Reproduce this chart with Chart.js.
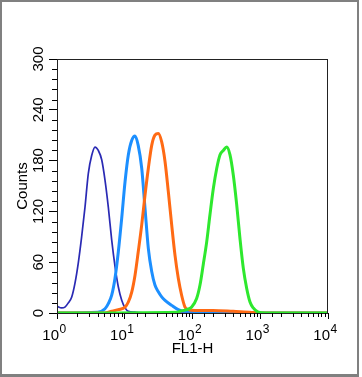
<!DOCTYPE html>
<html>
<head>
<meta charset="utf-8">
<script src="https://cdn.jsdelivr.net/npm/chart.js@4"></script>
<style>
  html, body { margin: 0; padding: 0; background: #fff; }
  #wrap { position: relative; width: 362px; height: 377px; }
  #frame { position: absolute; left: 0; top: 0; width: 359px; height: 377px; box-sizing: border-box;
           border-style: solid; border-color: #808080; border-width: 2px 2px 3px 2px; }
  #c { position: absolute; left: 0; top: 0; }
</style>
</head>
<body>
<div id="wrap">
  <div id="frame"></div>
  <canvas id="c" width="362" height="377"></canvas>
</div>
<script>
// histogram values (FL1-H channel, counts)
const darkBlueX = [1.0, 1.17, 1.31, 1.47, 1.65, 1.84, 2.06, 2.31, 2.59, 2.90, 3.25, 3.64, 4.07, 4.57, 5.11, 5.72, 6.42, 7.18, 8.03, 9.02, 10.1, 11.3, 14, 20, 10000];
const darkBlueY = [8, 6, 7, 12, 19, 35, 59, 90, 125, 165, 186, 196, 192, 181, 157, 125, 86, 55, 31, 15, 6, 2, 1, 0, 0];

const lightBlueX = [1, 4.0, 5.11, 5.72, 6.42, 7.18, 8.03, 9.02, 10.1, 11.3, 12.7, 14.2, 15.8, 17.8, 19.9, 22.3, 25.0, 27.9, 31.3, 35.1, 39.3, 49.3, 61.7, 77.5, 89, 150, 300, 600, 10000];
const lightBlueY = [0, 1, 5, 11, 21, 41, 72, 112, 155, 187, 204, 209, 198, 171, 124, 76, 49, 33, 25, 19, 15, 9, 4, 2, 2, 1, 1, 0, 0];

const orangeX = [1, 5, 6.42, 8.03, 10.1, 11.3, 12.7, 14.2, 15.8, 17.8, 19.9, 22.3, 25.0, 27.9, 31.3, 35.1, 39.3, 44.0, 49.3, 55.2, 61.7, 69.1, 77.5, 86.8, 109, 200, 400, 700, 1000, 10000];
const orangeY = [0, 0, 2, 4, 7, 13, 25, 45, 72, 104, 139, 171, 198, 210, 212, 202, 179, 143, 104, 68, 41, 21, 7, 4, 3, 3, 2, 1, 0, 0];

const greenX = [1, 60, 65.4, 82.1, 97.3, 115, 129, 144, 162, 181, 203, 228, 255, 285, 320, 357, 400, 449, 502, 562, 631, 706, 789, 936, 1200, 10000];
const greenY = [0, 1, 2, 4, 7, 17, 33, 57, 84, 116, 147, 171, 187, 192, 196, 187, 163, 128, 88, 53, 29, 13, 6, 1, 0, 0];

// axis labels
const yTickLabels = [0, 60, 120, 180, 240, 300];
const xTickExps = [0, 1, 2, 3, 4];
const xTitle = "FL1-H";
const yTitle = "Counts";

const FONT = '"Liberation Sans", Arial, sans-serif';

function pts(xs, ys) {
  return xs.map((x, i) => ({ x: x, y: ys[i] }));
}

function isDecade(v) {
  const l = Math.log10(v);
  return Math.abs(l - Math.round(l)) < 1e-9;
}

// plot box, short minor ticks and the tick labels (10 with superscript, rotated counts)
const axisExtras = {
  id: "axisExtras",
  afterDraw(chart) {
    const ctx = chart.ctx;
    const a = chart.chartArea;
    const xs = chart.scales.x;
    const ys = chart.scales.y;
    ctx.save();
    ctx.strokeStyle = "#222";
    ctx.lineWidth = 1;
    ctx.strokeRect(a.left + 0.5, a.top + 0.5, a.right - a.left - 1, a.bottom - a.top);

    ctx.strokeStyle = "#000";
    ctx.beginPath();
    ys.ticks.forEach((t) => {
      if (t.value % 60 === 0) return;
      const y = Math.round(ys.getPixelForValue(t.value)) + 0.5;
      ctx.moveTo(a.left - 5, y);
      ctx.lineTo(a.left, y);
    });
    xs.ticks.forEach((t) => {
      if (isDecade(t.value)) return;
      const x = Math.round(xs.getPixelForValue(t.value)) + 0.5;
      ctx.moveTo(x, a.bottom);
      ctx.lineTo(x, a.bottom + 4);
    });
    ctx.stroke();

    ctx.fillStyle = "#000";
    ctx.font = "15px " + FONT;
    ctx.textAlign = "center";
    ctx.textBaseline = "alphabetic";
    yTickLabels.forEach((v) => {
      const y = ys.getPixelForValue(v);
      ctx.save();
      ctx.translate(a.left - 14, y);
      ctx.rotate(-Math.PI / 2);
      ctx.fillText(String(v), 0, 0);
      ctx.restore();
    });

    xTickExps.forEach((e) => {
      const x = xs.getPixelForValue(Math.pow(10, e));
      ctx.font = "15px " + FONT;
      ctx.textAlign = "right";
      ctx.fillText("10", x + 2, a.bottom + 27);
      ctx.font = "12px " + FONT;
      ctx.textAlign = "left";
      ctx.fillText(String(e), x + 2.5, a.bottom + 20);
    });
    ctx.restore();
  },
};

const line = (data, color, width) => ({
  data: data,
  borderColor: color,
  borderWidth: width,
  pointRadius: 0,
  cubicInterpolationMode: "monotone",
  fill: false,
});

new Chart(document.getElementById("c"), {
  type: "line",
  data: {
    datasets: [
      line(pts(greenX, greenY), "#2ee82e", 3),
      line(pts(orangeX, orangeY), "#ff6a14", 3),
      line(pts(lightBlueX, lightBlueY), "#1c8fff", 3),
      line(pts(darkBlueX, darkBlueY), "#2a2ab4", 1.7),
    ],
  },
  options: {
    responsive: false,
    animation: false,
    layout: { padding: { left: 0, top: 59, right: 34, bottom: 0 } },
    plugins: { legend: { display: false }, tooltip: { enabled: false } },
    scales: {
      x: {
        type: "logarithmic",
        min: 1,
        max: 10000,
        afterFit(scale) { scale.height = 64; },
        border: { display: true, color: "#000", width: 1 },
        grid: {
          drawOnChartArea: false,
          drawTicks: true,
          tickLength: 6,
          tickColor: (c) => (c.tick && isDecade(c.tick.value) ? "#000" : "rgba(0,0,0,0)"),
        },
        ticks: { autoSkip: false, maxRotation: 0, callback: () => "" },
        title: {
          display: true,
          text: xTitle,
          color: "#000",
          font: { family: FONT, size: 15 },
          padding: { top: 0, bottom: 19 },
        },
      },
      y: {
        min: 0,
        max: 300,
        afterFit(scale) { scale.width = 57; },
        border: { display: true, color: "#000", width: 1 },
        grid: {
          drawOnChartArea: false,
          drawTicks: true,
          tickLength: 8,
          tickColor: (c) => (c.tick && c.tick.value % 60 === 0 ? "#000" : "rgba(0,0,0,0)"),
        },
        ticks: { stepSize: 12, autoSkip: false, callback: () => "" },
        title: {
          display: true,
          text: yTitle,
          color: "#000",
          font: { family: FONT, size: 15 },
          padding: { top: 14, bottom: 0 },
        },
      },
    },
  },
  plugins: [axisExtras],
});
</script>
</body>
</html>
